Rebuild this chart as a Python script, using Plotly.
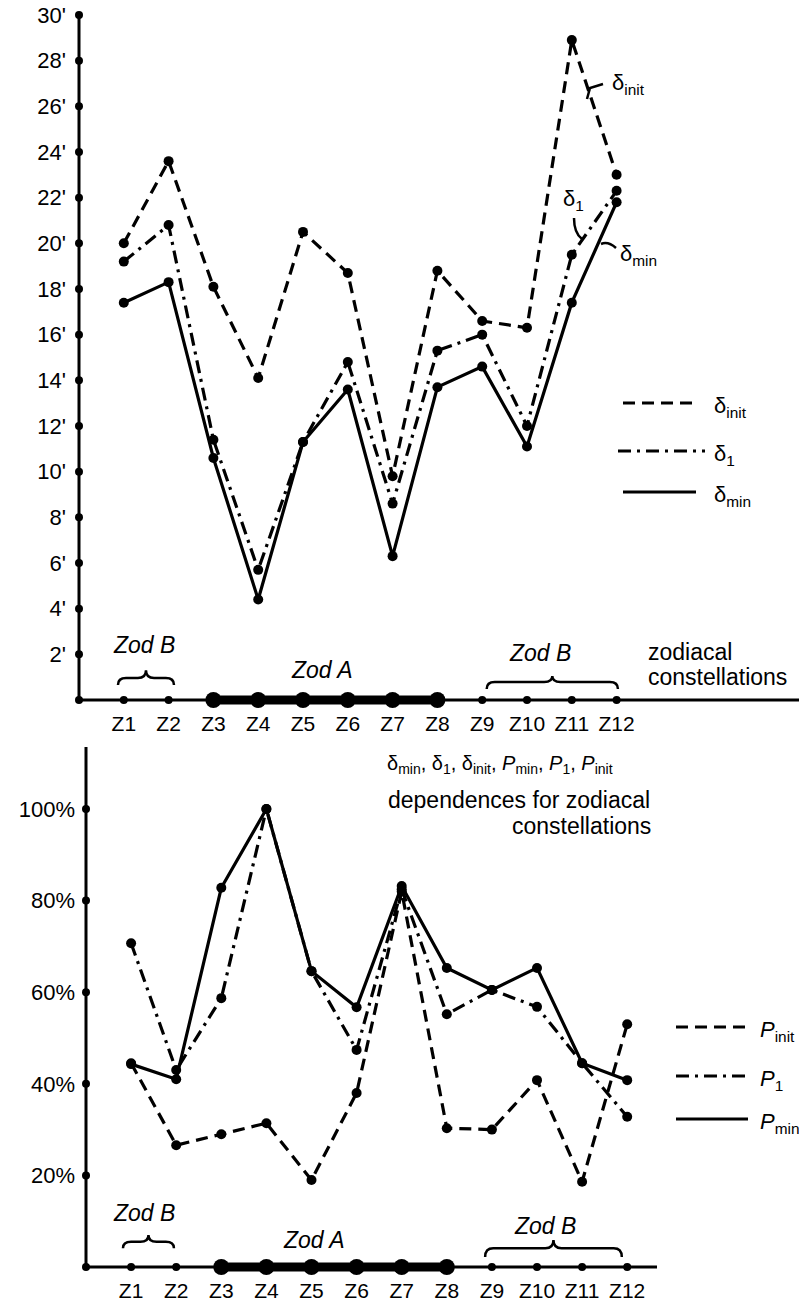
import plotly.graph_objects as go

# ---------------- data ----------------
zones = ["Z1", "Z2", "Z3", "Z4", "Z5", "Z6", "Z7", "Z8", "Z9", "Z10", "Z11", "Z12"]
zone_pos = [1, 2, 3, 4, 5, 6, 7, 8, 9, 10, 11, 12]
zod_a_pos = [3, 4, 5, 6, 7, 8]
zod_b_pos = [1, 2, 9, 10, 11, 12]

delta_init = [20.0, 23.6, 18.1, 14.1, 20.5, 18.7, 9.8, 18.8, 16.6, 16.3, 28.9, 23.0]
delta_1 = [19.2, 20.8, 11.4, 5.7, 11.3, 14.8, 8.6, 15.3, 16.0, 12.0, 19.5, 22.3]
delta_min = [17.4, 18.3, 10.6, 4.4, 11.3, 13.6, 6.3, 13.7, 14.6, 11.1, 17.4, 21.8]

p_init = [44.5, 26.6, 29.0, 31.4, 19.0, 38.0, 82.0, 30.3, 30.0, 40.8, 18.6, 53.0]
p_1 = [70.7, 43.0, 58.7, 100.0, 64.6, 47.4, 82.5, 55.2, 60.5, 56.8, 44.5, 32.8]
p_min = [44.3, 41.0, 82.8, 100.0, 64.6, 56.7, 83.2, 65.3, 60.5, 65.3, 44.5, 40.8]

delta_ticks = [2, 4, 6, 8, 10, 12, 14, 16, 18, 20, 22, 24, 26, 28, 30]
delta_tick_text = [f"{v}'" for v in delta_ticks]
p_ticks = [20, 40, 60, 80, 100]
p_tick_text = [f"{v}%" for v in p_ticks]

# ---------------- styling ----------------
W, H = 799, 1305
FONT = "Liberation Sans, Arial, sans-serif"
BLK = "black"
DASH = "12px,7px"
DASHDOT = "13px,6px,3px,6px"


def px(x):
    return x / W


def py(y):
    return (H - y) / H


fig = go.Figure()


def series(x, y, dash, xa, ya, name):
    fig.add_trace(go.Scatter(
        x=x, y=y, mode="lines+markers", name=name, showlegend=False,
        line=dict(color=BLK, width=3.2, dash=dash),
        marker=dict(color=BLK, size=10),
        xaxis=xa, yaxis=ya, cliponaxis=False, hoverinfo="skip"))


def base_marks(xa, ya, ticks, xmax):
    # baseline (x axis line)
    fig.add_trace(go.Scatter(x=[0, xmax], y=[0, 0], mode="lines",
                             line=dict(color=BLK, width=3), showlegend=False,
                             xaxis=xa, yaxis=ya, cliponaxis=False, hoverinfo="skip"))
    # y-axis tick dots
    fig.add_trace(go.Scatter(x=[0] * (len(ticks) + 1), y=[0] + ticks, mode="markers",
                             marker=dict(color=BLK, size=8), showlegend=False,
                             xaxis=xa, yaxis=ya, cliponaxis=False, hoverinfo="skip"))
    # Zod B dots on baseline
    fig.add_trace(go.Scatter(x=zod_b_pos, y=[0] * len(zod_b_pos), mode="markers",
                             marker=dict(color=BLK, size=8), showlegend=False,
                             xaxis=xa, yaxis=ya, cliponaxis=False, hoverinfo="skip"))
    # Zod A thick segment
    fig.add_trace(go.Scatter(x=zod_a_pos, y=[0] * len(zod_a_pos), mode="lines+markers",
                             line=dict(color=BLK, width=9),
                             marker=dict(color=BLK, size=16), showlegend=False,
                             xaxis=xa, yaxis=ya, cliponaxis=False, hoverinfo="skip"))


# geometry (pixels): top origin (79, 700), 44.8 px/zone, 22.8 px/minute
#                    bottom origin (86, 1267), 45.1 px/zone, 4.58 px/%
top_xmax = (W - 79) / 44.8
bot_xmax = (657 - 86) / 45.1
top_pad = 12 / 22.8
bot_pad = 12 / 4.58

# top chart
base_marks("x", "y", delta_ticks, top_xmax)
series(zone_pos, delta_init, DASH, "x", "y", "δinit")
series(zone_pos, delta_1, DASHDOT, "x", "y", "δ1")
series(zone_pos, delta_min, "solid", "x", "y", "δmin")

# bottom chart
base_marks("x2", "y2", p_ticks, bot_xmax)
series(zone_pos, p_init, DASH, "x2", "y2", "Pinit")
series(zone_pos, p_1, DASHDOT, "x2", "y2", "P1")
series(zone_pos, p_min, "solid", "x2", "y2", "Pmin")

axis_common = dict(showgrid=False, zeroline=False, showline=False, ticks="",
                   automargin=False)
yfont = dict(family=FONT, size=22, color=BLK)
xfont = dict(family=FONT, size=21, color=BLK)

fig.update_layout(
    xaxis=dict(domain=[px(79), 1], range=[0, top_xmax], anchor="free", position=py(700),
               tickvals=zone_pos, ticktext=zones, ticklabelstandoff=9, tickfont=xfont,
               **axis_common),
    yaxis=dict(domain=[py(712), py(15)], range=[-top_pad, 30], anchor="x",
               tickvals=delta_ticks, ticktext=delta_tick_text, ticklabelstandoff=12,
               tickfont=yfont, **axis_common),
    xaxis2=dict(domain=[px(86), px(657)], range=[0, bot_xmax], anchor="free",
                position=py(1267),
                tickvals=zone_pos, ticktext=zones, ticklabelstandoff=9, tickfont=xfont,
                **axis_common),
    yaxis2=dict(domain=[py(1279), py(747)], range=[-bot_pad, (1267 - 747) / 4.58],
                anchor="x2",
                tickvals=p_ticks, ticktext=p_tick_text, ticklabelstandoff=10,
                tickfont=yfont, **axis_common),
)

annotations = []
shapes = []

# vertical axis lines
shapes.append(dict(type="line", xref="paper", yref="paper", x0=px(79), x1=px(79),
                   y0=py(700), y1=py(15), line=dict(color=BLK, width=3)))
shapes.append(dict(type="line", xref="paper", yref="paper", x0=px(86), x1=px(86),
                   y0=py(1267), y1=py(747), line=dict(color=BLK, width=3)))


def text(x, y, t, size=21, xanchor="left", xref="paper", yref="paper", italic=False):
    if italic:
        t = f"<i>{t}</i>"
    annotations.append(dict(x=x, y=y, xref=xref, yref=yref, text=t, showarrow=False,
                            xanchor=xanchor, yanchor="middle",
                            font=dict(family=FONT, size=size, color=BLK)))


def brace(x1, x2, yb, ym, yt, xref, yref):
    d = 0.18
    xm = (x1 + x2) / 2
    path = (f"M {x1},{yb} Q {x1},{ym} {x1 + d},{ym} L {xm - d},{ym} "
            f"Q {xm},{ym} {xm},{yt} Q {xm},{ym} {xm + d},{ym} "
            f"L {x2 - d},{ym} Q {x2},{ym} {x2},{yb}")
    shapes.append(dict(type="path", path=path, xref=xref, yref=yref,
                       line=dict(color=BLK, width=2.5)))


# group labels, top chart
text(1.45, 2.4, "Zod B", size=23, xanchor="center", xref="x", yref="y", italic=True)
text(5.42, 1.3, "Zod A", size=23, xanchor="center", xref="x", yref="y", italic=True)
text(10.3, 2.05, "Zod B", size=23, xanchor="center", xref="x", yref="y", italic=True)
brace(0.87, 2.12, 0.66, 0.96, 1.3, "x", "y")
brace(9.1, 12.03, 0.48, 0.79, 1.05, "x", "y")
text(px(646), py(652), "zodiacal", size=23)
text(px(646), py(677), "constellations", size=23)

# group labels, bottom chart
text(1.29, 11.8, "Zod B", size=23, xanchor="center", xref="x2", yref="y2", italic=True)
text(5.06, 5.9, "Zod A", size=23, xanchor="center", xref="x2", yref="y2", italic=True)
text(10.18, 9.0, "Zod B", size=23, xanchor="center", xref="x2", yref="y2", italic=True)
brace(0.82, 1.95, 4.1, 5.5, 7.0, "x2", "y2")
brace(8.85, 11.88, 2.2, 4.1, 5.9, "x2", "y2")

# caption between the charts
text(px(385), py(764),
     "δ<sub>min</sub>, δ<sub>1</sub>, δ<sub>init</sub>, <i>P</i><sub>min</sub>, "
     "<i>P</i><sub>1</sub>, <i>P</i><sub>init</sub>", size=20)
text(px(386), py(800), "dependences for zodiacal", size=23)
text(px(653), py(826), "constellations", size=23, xanchor="right")

# top legend
for yy, dash, lab, x0, x1 in [(403, DASH, "δ<sub>init</sub>", 623, 697),
                              (451, DASHDOT, "δ<sub>1</sub>", 618, 705),
                              (492, "solid", "δ<sub>min</sub>", 623, 696)]:
    shapes.append(dict(type="line", xref="paper", yref="paper", x0=px(x0), x1=px(x1),
                       y0=py(yy), y1=py(yy), line=dict(color=BLK, width=3.2, dash=dash)))
    text(px(712), py(yy + 4), lab, size=22)

# bottom legend
for yy, dash, lab in [(1027, DASH, "<i>P</i><sub>init</sub>"),
                      (1076, DASHDOT, "<i>P</i><sub>1</sub>"),
                      (1119, "solid", "<i>P</i><sub>min</sub>")]:
    shapes.append(dict(type="line", xref="paper", yref="paper", x0=px(676), x1=px(748),
                       y0=py(yy), y1=py(yy), line=dict(color=BLK, width=3.2, dash=dash)))
    text(px(758), py(yy + 4), lab, size=22)

# in-plot curve labels with leader strokes (top chart)
text(px(610), py(84), "δ<sub>init</sub>", size=22)
text(px(561), py(200), "δ<sub>1</sub>", size=22)
text(px(618), py(255), "δ<sub>min</sub>", size=22)
for path in [f"M {px(587)},{py(99)} L {px(590)},{py(88)} L {px(603)},{py(84)}",
             f"M {px(574)},{py(218)} Q {px(574)},{py(233)} {px(582)},{py(239)}",
             f"M {px(601)},{py(244)} Q {px(608)},{py(241)} {px(616)},{py(248)}"]:
    shapes.append(dict(type="path", path=path, xref="paper", yref="paper",
                       line=dict(color=BLK, width=2.5)))

fig.update_layout(
    width=W, height=H, margin=dict(l=0, r=0, t=0, b=0, autoexpand=False),
    paper_bgcolor="white", plot_bgcolor="white",
    showlegend=False, annotations=annotations, shapes=shapes,
    font=dict(family=FONT, color=BLK),
)

fig.write_html("out.html", config={"displayModeBar": False},
               post_script="document.body.style.margin='0';")
